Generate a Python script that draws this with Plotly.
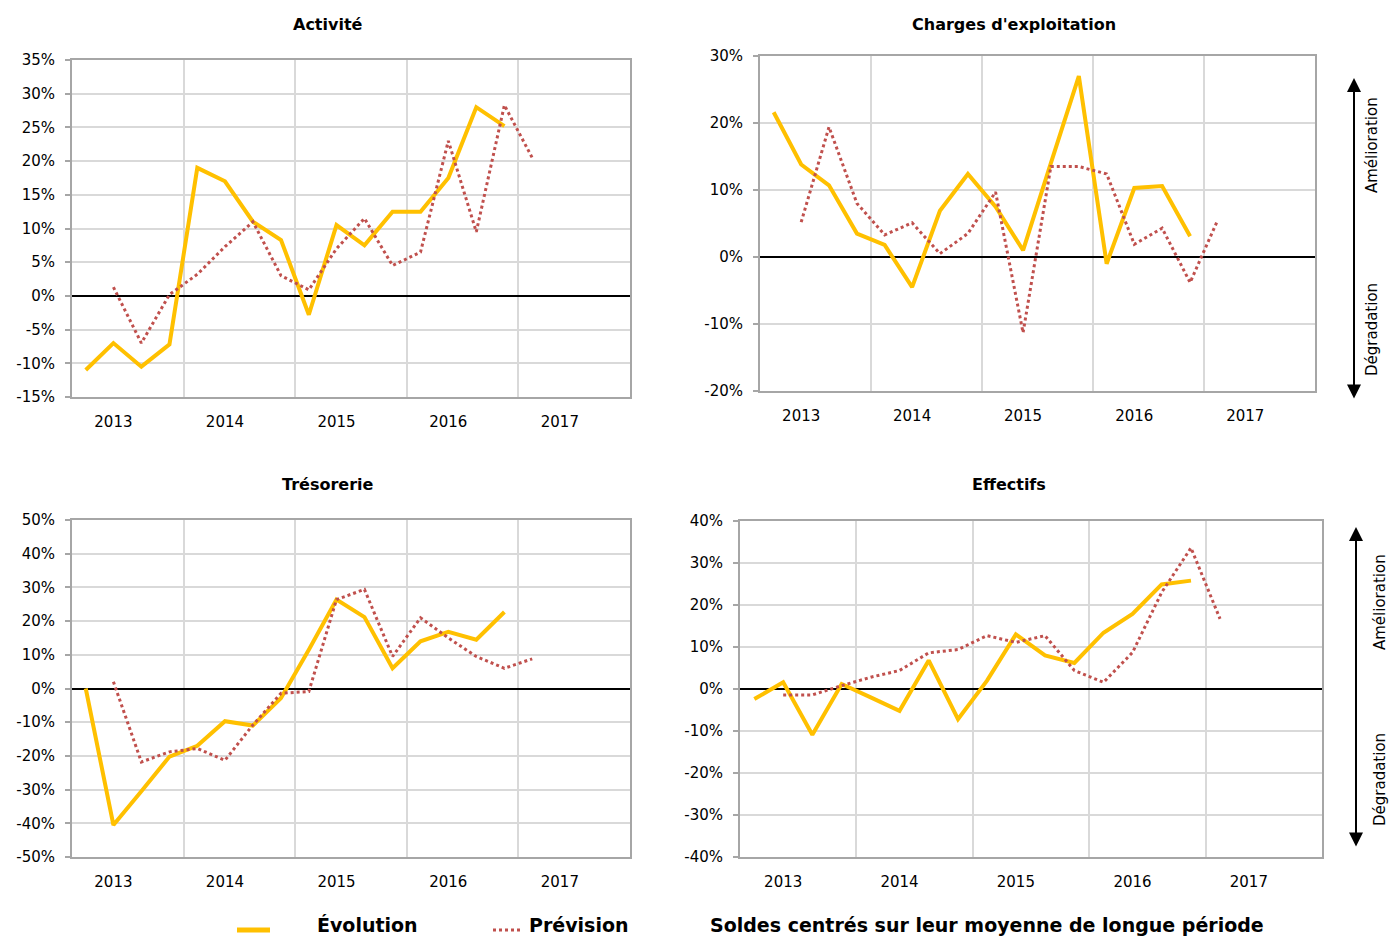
import plotly.graph_objects as go

W, H = 1389, 936

# ---- Data (soldes en %) ----
quarters = [f"{y}-{m:02d}-01" for y in range(2013, 2018) for m in (1, 4, 7, 10)]
evo_q = quarters[0:16]     # 2013T1 .. 2016T4
prev_q = quarters[1:17]    # 2013T2 .. 2017T1
years = [2013, 2014, 2015, 2016, 2017]
year_labels = [str(y) for y in years]
year_label_dates = [f"{y}-05-16 12:00" for y in years]   # labels sit under the 2nd quarter

activite_evo = [-11.0, -7.0, -10.5, -7.2, 19.0, 17.0, 11.0, 8.3, -2.8, 10.5, 7.5, 12.5, 12.5, 17.5, 28.0, 25.2]
activite_prev = [1.3, -7.0, 0.2, 3.2, 7.3, 11.0, 3.0, 0.9, 7.0, 11.5, 4.5, 6.5, 23.0, 9.5, 28.3, 20.5]

charges_evo = [21.6, 13.8, 10.7, 3.5, 1.8, -4.5, 6.9, 12.4, 7.5, 1.0, 14.0, 27.0, -1.0, 10.3, 10.6, 3.1]
charges_prev = [5.2, 19.4, 8.0, 3.3, 5.1, 0.5, 3.5, 9.7, -11.3, 13.5, 13.5, 12.4, 1.9, 4.3, -3.8, 5.5]

treso_evo = [0.0, -40.5, -30.5, -20.2, -17.0, -9.7, -11.0, -2.8, 11.5, 26.4, 21.2, 6.0, 14.0, 16.8, 14.5, 22.7]
treso_prev = [2.0, -21.8, -18.8, -17.8, -21.3, -10.8, -1.4, -0.9, 26.4, 29.4, 9.5, 21.0, 15.0, 9.5, 6.0, 8.8]

effectifs_evo = [-2.4, 1.6, -10.9, 1.2, -2.0, -5.2, 6.8, -7.2, 2.0, 13.0, 8.0, 6.2, 13.4, 17.9, 24.9, 25.8]
effectifs_prev = [-1.4, -1.4, 0.8, 2.8, 4.4, 8.6, 9.4, 12.7, 11.1, 12.7, 4.4, 1.6, 8.7, 23.0, 33.6, 16.7]

titles = ["Activité", "Charges d'exploitation", "Trésorerie", "Effectifs"]
y_ranges = [(-15, 35, 5), (-20, 30, 10), (-50, 50, 10), (-40, 40, 10)]

EVO_COLOR = "#FFC000"
PREV_COLOR = "#C0504D"
FONT = "DejaVu Sans"

def px_x(v):
    return v / W

def px_y(v):
    return 1 - v / H

# plot area boxes in pixels: (left, right, top, bottom)
boxes = [(72, 630, 60, 397), (760, 1315, 56, 391), (72, 630, 520, 857), (740, 1322, 521, 857)]
title_pos = [(328, 24), (1014, 24), (328, 484), (1009, 484)]

series = [(activite_evo, activite_prev), (charges_evo, charges_prev),
          (treso_evo, treso_prev), (effectifs_evo, effectifs_prev)]

fig = go.Figure()
layout = dict(
    width=W, height=H,
    margin=dict(l=0, r=0, t=0, b=0),
    paper_bgcolor="white", plot_bgcolor="white",
    showlegend=False,
    font=dict(family=FONT, size=15, color="#000000"),
)

annotations = []
shapes = []

for i, ((evo, prev), box, (ymin, ymax, dy)) in enumerate(zip(series, boxes, y_ranges)):
    n = "" if i == 0 else str(i + 1)
    xa, ya = "x" + n, "y" + n
    fig.add_trace(go.Scatter(x=evo_q, y=evo, mode="lines", xaxis=xa, yaxis=ya,
                             xperiod="M3", xperiodalignment="middle",
                             line=dict(color=EVO_COLOR, width=4), name="Évolution"))
    fig.add_trace(go.Scatter(x=prev_q, y=prev, mode="lines", xaxis=xa, yaxis=ya,
                             xperiod="M3", xperiodalignment="middle",
                             line=dict(color=PREV_COLOR, width=3, dash="dot"), name="Prévision"))
    l, r, t, b = box
    yvals = list(range(ymin, ymax + 1, dy))
    ytext = [f"{v}%" for v in yvals]
    layout["xaxis" + n] = dict(
        domain=[px_x(l), px_x(r)], anchor=ya, type="date",
        range=["2013-01-01", "2018-01-01"],
        tickmode="array", tickvals=year_label_dates, ticktext=year_labels,
        showgrid=False,
        minor=dict(tick0="2013-01-01", dtick="M12", showgrid=True,
                   gridcolor="#D9D9D9", gridwidth=2, ticks=""),
        showline=True, linecolor="#A6A6A6", linewidth=2, mirror=True,
        ticks="", ticklabelstandoff=10, automargin=False,
        tickfont=dict(family=FONT, size=15, color="#000000"), fixedrange=True,
    )
    layout["yaxis" + n] = dict(
        domain=[px_y(b), px_y(t)], anchor=xa,
        range=[ymin, ymax], tickmode="array", tickvals=yvals, ticktext=ytext,
        showgrid=True, gridcolor="#D9D9D9", gridwidth=2,
        zeroline=True, zerolinecolor="#000000", zerolinewidth=1.5,
        showline=True, linecolor="#A6A6A6", linewidth=2, mirror=True,
        ticks="outside", ticklen=5, tickcolor="#A6A6A6", tickwidth=1.5,
        ticklabelstandoff=7, automargin=False,
        tickfont=dict(family=FONT, size=15, color="#000000"), fixedrange=True,
    )
    tx, ty = title_pos[i]
    annotations.append(dict(text=f"<b>{titles[i]}</b>", x=px_x(tx), y=px_y(ty),
                            xref="paper", yref="paper", showarrow=False,
                            xanchor="center", yanchor="middle",
                            font=dict(family=FONT, size=16, color="#000000")))

# Right-side arrows and labels
for (ax_x, y_top, y_bot, tx, am_y, dg_y) in [(1354, 78, 400, 1372, 145, 330),
                                              (1356, 527, 848, 1380, 602, 780)]:
    annotations.append(dict(x=px_x(ax_x), y=px_y(y_top), xref="paper", yref="paper",
                            ax=0, ay=(y_bot - y_top), axref="pixel", ayref="pixel",
                            text="", showarrow=True, arrowside="end+start",
                            arrowhead=2, arrowsize=1.4, arrowwidth=2, arrowcolor="#000000"))
    annotations.append(dict(text="Amélioration", x=px_x(tx), y=px_y(am_y), xref="paper", yref="paper",
                            showarrow=False, textangle=-90, xanchor="center", yanchor="middle",
                            font=dict(family=FONT, size=15, color="#000000")))
    annotations.append(dict(text="Dégradation", x=px_x(tx), y=px_y(dg_y), xref="paper", yref="paper",
                            showarrow=False, textangle=-90, xanchor="center", yanchor="middle",
                            font=dict(family=FONT, size=15, color="#000000")))

# Bottom legend
shapes.append(dict(type="line", xref="paper", yref="paper",
                   x0=px_x(237), x1=px_x(270), y0=px_y(930), y1=px_y(930),
                   line=dict(color=EVO_COLOR, width=5)))
shapes.append(dict(type="line", xref="paper", yref="paper",
                   x0=px_x(493), x1=px_x(520), y0=px_y(930), y1=px_y(930),
                   line=dict(color=PREV_COLOR, width=3, dash="dot")))
annotations.append(dict(text="<b>Évolution</b>", x=px_x(315), y=px_y(925), xref="paper", yref="paper",
                        showarrow=False, xanchor="left", yanchor="middle",
                        font=dict(family=FONT, size=19, color="#000000")))
annotations.append(dict(text="<b>Prévision</b>", x=px_x(527), y=px_y(925), xref="paper", yref="paper",
                        showarrow=False, xanchor="left", yanchor="middle",
                        font=dict(family=FONT, size=19, color="#000000")))
annotations.append(dict(text="<b>Soldes centrés sur leur moyenne de longue période</b>",
                        x=px_x(708), y=px_y(925), xref="paper", yref="paper",
                        showarrow=False, xanchor="left", yanchor="middle",
                        font=dict(family=FONT, size=19, color="#000000")))

layout["annotations"] = annotations
layout["shapes"] = shapes
fig.update_layout(**layout)
fig.write_html("out.html", config={"displayModeBar": False},
               post_script="document.body.style.margin='0';document.body.style.overflow='hidden';")
